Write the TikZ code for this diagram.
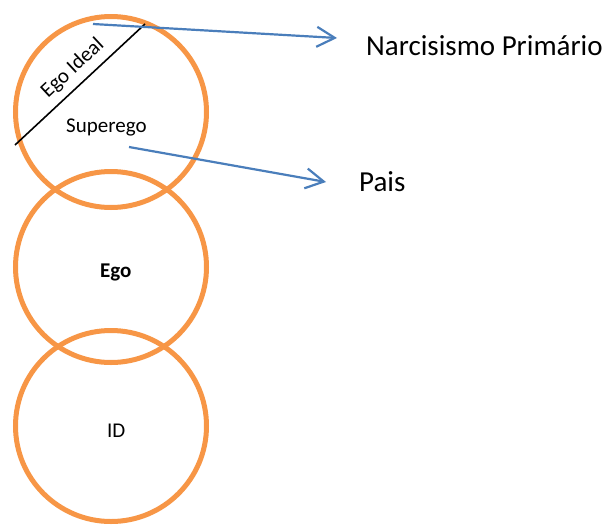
\documentclass[tikz,border=0pt]{standalone}
\usepackage{fontspec}
\setmainfont{Carlito}
\usetikzlibrary{arrows.meta}
\definecolor{ringorange}{HTML}{F79646}
\definecolor{arrowblue}{HTML}{4A7EBB}
\tikzset{
  ring/.style={circle, draw=ringorange, line width=5pt, minimum size=191pt, inner sep=0pt},
  blueconn/.style={draw=arrowblue, line width=2.2pt, -{Straight Barb[length=18pt,width=20pt,line width=2.2pt]}},
  lbl/.style={inner sep=0pt, font=\fontsize{21pt}{23pt}\selectfont},
  biglbl/.style={inner sep=0pt, font=\fontsize{29pt}{32pt}\selectfont}
}
\begin{document}
\begin{tikzpicture}[x=1pt,y=-1pt]
\useasboundingbox (0,0) rectangle (607,525);
\node[ring] (id) at (111,426) {};
\node[ring] (ego) at (111,267) {};
\node[ring] (sup) at (111,112) {};
% dividing line
\coordinate (l1) at (15,145);
\coordinate (l2) at (145,24);
\draw[line width=1.6pt] (l1) -- (l2);
% labels
\node[lbl, anchor=base west, rotate=43] (egoideal) at (48,99) {Ego Ideal};
\node[lbl, anchor=base west] (superego) at (66,132) {Superego};
\node[lbl, anchor=base west, font=\fontsize{21pt}{23pt}\selectfont\bfseries] (egotxt) at (100,277) {Ego};
\node[lbl, anchor=base west] (idtxt) at (107,437) {ID};
\node[biglbl, anchor=base west] (narc) at (366,55) {Narcisismo Primário};
\node[biglbl, anchor=base west] (pais) at (359,191) {Pais};
% arrows
\coordinate (a1s) at (93,24);
\coordinate (a1e) at (337,38);
\coordinate (a2s) at (129,147);
\coordinate (a2e) at (326,182);
\draw[blueconn] (a1s) -- (a1e);
\draw[blueconn] (a2s) -- (a2e);
\end{tikzpicture}
\end{document}
